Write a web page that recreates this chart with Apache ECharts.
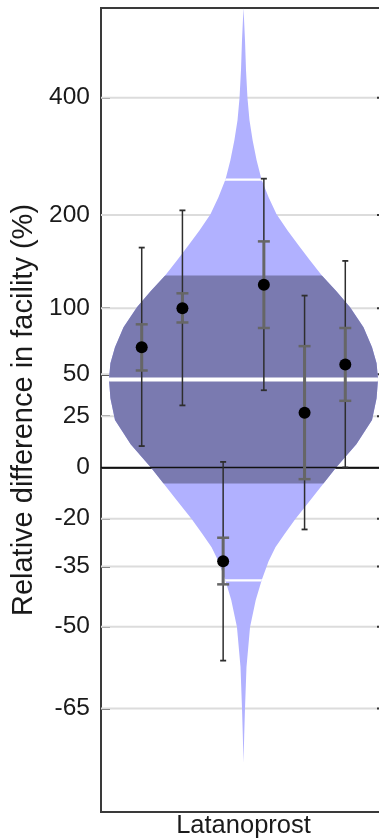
<!DOCTYPE html>
<html>
<head>
<meta charset="utf-8">
<script src="https://cdn.jsdelivr.net/npm/echarts@6/dist/echarts.min.js"></script>
<style>
  html, body { margin: 0; padding: 0; background: #fff; }
  #chart { width: 379px; height: 838px; }
</style>
</head>
<body>
<div id="chart"></div>
<script>
// ---- data (y values are natural-log facility ratios, ln(1 + %/100)) ----
const categories = ['Latanoprost'];
const tickPercent = [400, 200, 100, 50, 25, 0, -20, -35, -50, -65];

// per-eye estimates with 95% (outer) and 1-SE (inner) intervals
const eyeEstimate = [0.523, 0.693, -0.408, 0.795, 0.238, 0.448];
const eyeOuterLow = [0.093, 0.270, -0.841, 0.336, -0.270, 0.000];
const eyeOuterHigh = [0.957, 1.119, 0.024, 1.257, 0.748, 0.899];
const eyeInnerLow = [0.422, 0.631, -0.509, 0.607, -0.051, 0.290];
const eyeInnerHigh = [0.623, 0.758, -0.306, 0.984, 0.528, 0.607];

// predictive distribution: level and half-width (fraction of the category band)
const violinLevel = [2.00, 1.859, 1.729, 1.607, 1.511, 1.424, 1.337, 1.254, 1.176, 1.102, 1.032, 0.967, 0.902,
  0.836, 0.767, 0.697, 0.610, 0.523, 0.454, 0.384, 0.301, 0.206, 0.101, 0.0, -0.068, -0.142, -0.225, -0.286,
  -0.347, -0.408, -0.490, -0.577, -0.695, -0.869, -1.047, -1.164, -1.286];
const violinHalfWidth = [0, 0.0053, 0.0088, 0.014, 0.021, 0.032, 0.046, 0.063, 0.088, 0.116, 0.154, 0.193, 0.233,
  0.275, 0.326, 0.374, 0.421, 0.451, 0.467, 0.472, 0.467, 0.451, 0.396, 0.325, 0.282, 0.235, 0.182, 0.146,
  0.112, 0.088, 0.064, 0.043, 0.023, 0.0105, 0.0053, 0.0025, 0];

// population mean, its credible band, and predictive interval
const meanLevel = [0.383];
const meanBand = [-0.0696, 0.836];
const predictiveInterval = [-0.492, 1.253];

// ---- drawing ----
const FONT = '"Liberation Sans", Arial, Helvetica, sans-serif';
const tickValues = tickPercent.map(p => Math.log(1 + p / 100));

function tickLabel(v) {
  for (let i = 0; i < tickValues.length; i++) {
    if (Math.abs(tickValues[i] - v) < 1e-6) return String(tickPercent[i]);
  }
  return '';
}

function violinPoints(api) {
  const cx = api.coord([0, 0])[0];
  const band = api.size([1, 0])[0];
  const right = [], left = [];
  for (let i = 0; i < violinLevel.length; i++) {
    const y = api.coord([0, violinLevel[i]])[1];
    const hw = violinHalfWidth[i] * band;
    right.push([cx + hw, y]);
    left.push([cx - hw, y]);
  }
  return right.concat(left.reverse());
}

const chart = echarts.init(document.getElementById('chart'), null, { renderer: 'canvas' });

chart.setOption({
  animation: false,
  grid: {
    left: 101, top: 8, width: 285, height: 804,
    outerBoundsMode: 'none',
    containLabel: false,
    show: true, borderColor: '#3a3a3a', borderWidth: 2, backgroundColor: 'transparent'
  },
  xAxis: {
    type: 'category',
    data: categories,
    axisLine: { show: true, lineStyle: { color: '#3a3a3a', width: 2 } },
    axisTick: { show: false },
    axisLabel: { margin: 1, fontSize: 25.5, color: '#1a1a1a', fontFamily: FONT }
  },
  yAxis: {
    type: 'value',
    min: -1.5,
    max: 2.0,
    axisLine: { show: true, lineStyle: { color: '#3a3a3a', width: 2 } },
    axisTick: { show: true, inside: true, length: 9, customValues: tickValues, lineStyle: { color: '#333', width: 2 } },
    axisLabel: { customValues: tickValues, formatter: tickLabel, margin: 11, fontSize: 24.5, color: '#1a1a1a', fontFamily: FONT },
    splitLine: { show: false },
    name: 'Relative difference in facility (%)',
    nameLocation: 'middle',
    nameRotate: 90,
    nameGap: 61,
    nameTextStyle: { fontSize: 29, color: '#1a1a1a', fontFamily: FONT }
  },
  series: [
    {
      // horizontal reference lines and right-hand ticks
      type: 'custom',
      z: 1,
      data: tickValues.filter(v => v !== 0).map(v => [0, v]),
      renderItem: (params, api) => {
        const cs = params.coordSys;
        const y = api.coord([0, api.value(1)])[1];
        return {
          type: 'group',
          children: [
            { type: 'line', shape: { x1: cs.x, y1: y, x2: cs.x + cs.width, y2: y },
              style: { stroke: '#dcdcdc', lineWidth: 2 } },
            { type: 'line', shape: { x1: cs.x + cs.width - 9, y1: y, x2: cs.x + cs.width, y2: y },
              style: { stroke: '#333', lineWidth: 2 } }
          ]
        };
      }
    },
    {
      // predictive distribution, mean band and summary lines
      type: 'custom',
      z: 2,
      data: [[0, meanLevel[0]]],
      renderItem: (params, api) => {
        const cs = params.coordSys;
        const pts = violinPoints(api);
        const yTop = api.coord([0, meanBand[1]])[1];
        const yBot = api.coord([0, meanBand[0]])[1];
        const line = (v, w) => {
          const y = api.coord([0, v])[1];
          return { type: 'line', shape: { x1: cs.x, y1: y, x2: cs.x + cs.width, y2: y },
                   style: { stroke: '#ffffff', lineWidth: w },
                   clipPath: { type: 'polygon', shape: { points: pts } } };
        };
        return {
          type: 'group',
          children: [
            { type: 'polygon', shape: { points: pts }, style: { fill: '#b1b1ff' } },
            { type: 'polygon', shape: { points: pts }, style: { fill: '#7a7ab0' },
              clipPath: { type: 'rect', shape: { x: cs.x, y: yTop, width: cs.width, height: yBot - yTop } } },
            line(meanLevel[0], 4),
            line(predictiveInterval[1], 2.2),
            line(predictiveInterval[0], 2.2)
          ]
        };
      }
    },
    {
      // zero line
      type: 'custom',
      z: 3,
      data: [[0, 0]],
      renderItem: (params, api) => {
        const cs = params.coordSys;
        const y = api.coord([0, api.value(1)])[1];
        return { type: 'line', shape: { x1: cs.x, y1: y, x2: cs.x + cs.width, y2: y },
                 style: { stroke: '#111', lineWidth: 1.5 } };
      }
    },
    {
      // individual eyes: interval whiskers and point estimates
      type: 'custom',
      z: 4,
      data: eyeEstimate.map((e, i) => [0, e, eyeOuterLow[i], eyeOuterHigh[i], eyeInnerLow[i], eyeInnerHigh[i]]),
      renderItem: (params, api) => {
        const n = eyeEstimate.length;
        const band = api.size([1, 0])[0];
        const cx = api.coord([0, 0])[0] + (params.dataIndex - (n - 1) / 2) * band / 7;
        const Y = k => api.coord([0, api.value(k)])[1];
        const seg = (x1, y1, x2, y2, color, w) => ({ type: 'line', shape: { x1, y1, x2, y2 },
          style: { stroke: color, lineWidth: w } });
        const oLo = Y(2), oHi = Y(3), iLo = Y(4), iHi = Y(5), est = Y(1);
        const outer = '#2e2e2e', inner = '#666666';
        return {
          type: 'group',
          children: [
            seg(cx, oLo, cx, oHi, outer, 1.5),
            seg(cx - 3, oLo, cx + 3, oLo, outer, 1.8),
            seg(cx - 3, oHi, cx + 3, oHi, outer, 1.8),
            seg(cx, iLo, cx, iHi, inner, 3),
            seg(cx - 6, iLo, cx + 6, iLo, inner, 2.5),
            seg(cx - 6, iHi, cx + 6, iHi, inner, 2.5),
            { type: 'circle', shape: { cx: cx, cy: est, r: 6 }, style: { fill: '#000' } }
          ]
        };
      }
    }
  ]
});
</script>
</body>
</html>
